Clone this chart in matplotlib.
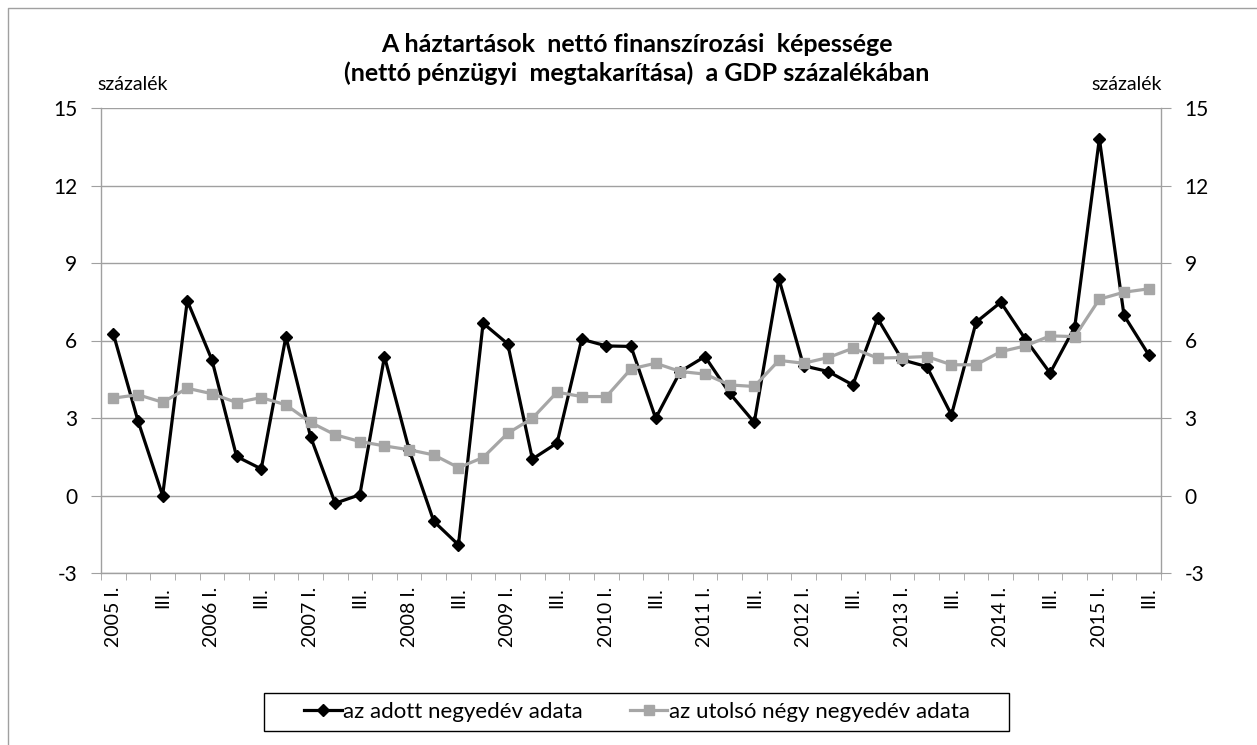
import matplotlib
matplotlib.use("Agg")
import matplotlib.pyplot as plt
from matplotlib.lines import Line2D
from matplotlib.patches import Rectangle

plt.rcParams['font.family'] = ['Lato', 'DejaVu Sans']

# quarterly data, 2005 Q1 .. 2015 Q3
adott = [6.26, 2.89, 0.0, 7.54, 5.25, 1.51, 1.03, 6.15, 2.28, -0.3,
         0.03, 5.38, 1.77, -1.0, -1.91, 6.67, 5.87, 1.41, 2.03, 6.05,
         5.79, 5.77, 2.99, 4.8, 5.38, 3.96, 2.83, 8.39, 5.02, 4.8,
         4.28, 6.86, 5.25, 4.99, 3.12, 6.71, 7.48, 6.05, 4.74, 6.52,
         13.81, 6.97, 5.45]
utolso_negy = [3.77, 3.9, 3.61, 4.15, 3.94, 3.6, 3.79, 3.51, 2.83, 2.35,
               2.09, 1.92, 1.77, 1.57, 1.08, 1.47, 2.41, 2.99, 4.0, 3.83,
               3.83, 4.9, 5.12, 4.8, 4.7, 4.28, 4.22, 5.23, 5.12, 5.34,
               5.7, 5.32, 5.34, 5.38, 5.06, 5.06, 5.57, 5.79, 6.18, 6.15,
               7.6, 7.87, 8.0]
tick_labels = ["2005 I.", "III.", "2006 I.", "III.", "2007 I.", "III.",
               "2008 I.", "III.", "2009 I.", "III.", "2010 I.", "III.",
               "2011 I.", "III.", "2012 I.", "III.", "2013 I.", "III.",
               "2014 I.", "III.", "2015 I.", "III."]
y_ticks = [-3, 0, 3, 6, 9, 12, 15]

W, H = 1257, 745
fig = plt.figure(figsize=(W / 100, H / 100), dpi=100)
ax = fig.add_axes([101 / W, 1 - 573 / H, 1060 / W, 465 / H])

grid_c = '#a0a0a0'
x = list(range(len(adott)))
ax.plot(x, adott, color='black', lw=2.3, marker='D', ms=6, zorder=3,
        label='az adott negyedév adata')
ax.plot(x, utolso_negy, color='#a6a6a6', lw=2.3, marker='s', ms=7.5, zorder=4,
        label='az utolsó négy negyedév adata')

ax.set_xlim(-0.5, len(adott) - 0.5)
ax.set_ylim(-3, 15)
ax.set_yticks(y_ticks)
ax.set_yticklabels([str(v) for v in y_ticks])
ax.yaxis.grid(True, color=grid_c, lw=1)
ax.set_axisbelow(True)

ax.set_xticks(range(0, len(adott), 2))
ax.set_xticklabels(tick_labels, rotation=90, fontsize=14)
ax.set_xticks([i - 0.5 for i in range(len(adott) + 1)], minor=True)
ax.tick_params(axis='x', which='major', length=0, pad=10)
ax.tick_params(axis='x', which='minor', length=5, color=grid_c, direction='out')
ax.tick_params(axis='y', which='major', length=7, color=grid_c, labelsize=15,
               left=True, right=True, labelleft=True, labelright=True, pad=10)

ax.spines['top'].set_visible(False)
for s in ['left', 'right', 'bottom']:
    ax.spines[s].set_color(grid_c)
    ax.spines[s].set_linewidth(1)

fig.text(637 / W, 1 - 59 / H, "A háztartások  nettó finanszírozási  képessége\n(nettó pénzügyi  megtakarítása)  a GDP százalékában",
         ha='center', va='center', fontsize=18, fontweight='bold', linespacing=1.3)
fig.text(97 / W, 1 - 85 / H, "százalék", ha='left', va='center', fontsize=14)
fig.text(1162 / W, 1 - 85 / H, "százalék", ha='right', va='center', fontsize=14)

# outer chart frame
fig.add_artist(Line2D([8 / W, 8 / W, 1], [0, 1 - 8 / H, 1 - 8 / H], color=grid_c, lw=1))

# legend box drawn by hand, legend itself frameless
fig.add_artist(Rectangle((264 / W, 1 - 731 / H), 745 / W, 38 / H, fill=False,
                         edgecolor='black', lw=1, transform=fig.transFigure))
leg = fig.legend(loc='center', bbox_to_anchor=(637 / W, 1 - 712 / H), ncol=2,
                 fontsize=16, frameon=False,
                 handlelength=1.7, handletextpad=0.05, columnspacing=2.1,
                 borderpad=0.2)

fig.savefig("out.png", dpi=100)
